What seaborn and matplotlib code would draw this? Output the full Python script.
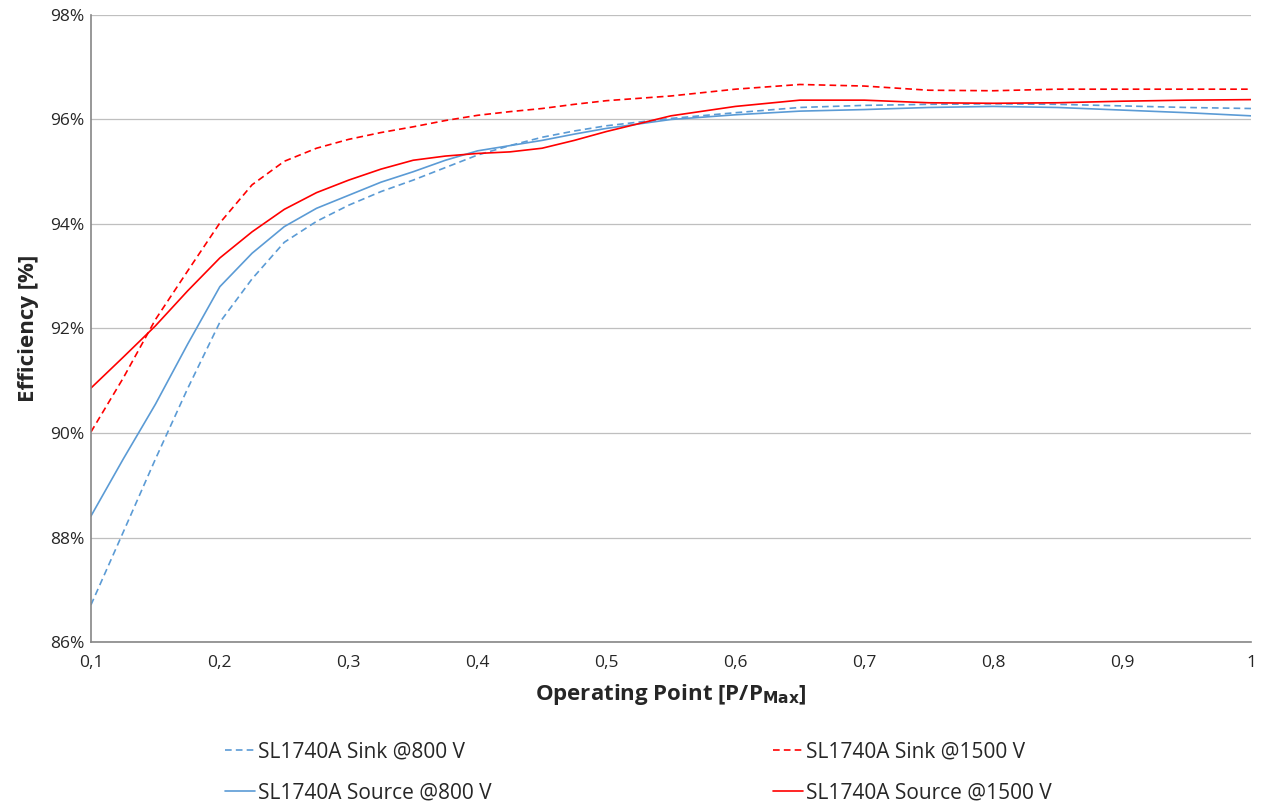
import numpy as np
import pandas as pd
import matplotlib
matplotlib.use("Agg")
import matplotlib.pyplot as plt
import seaborn as sns

x_pts = [0.1, 0.125, 0.15, 0.175, 0.2, 0.225, 0.25, 0.275, 0.3, 0.325, 0.35, 0.375, 0.4,
         0.425, 0.45, 0.475, 0.5, 0.55, 0.6, 0.65, 0.7, 0.75, 0.8, 0.85, 0.9, 0.95, 1.0]

# Efficiency in %
sink_800 = [86.71, 88.10, 89.50, 90.85, 92.12, 92.95, 93.65, 94.05, 94.36, 94.62, 94.84, 95.08, 95.32,
            95.50, 95.66, 95.78, 95.88, 96.02, 96.13, 96.23, 96.27, 96.29, 96.30, 96.29, 96.26, 96.23, 96.21]
source_800 = [88.41, 89.50, 90.55, 91.70, 92.80, 93.44, 93.95, 94.30, 94.55, 94.80, 95.00, 95.22, 95.40,
              95.50, 95.60, 95.72, 95.83, 96.00, 96.09, 96.16, 96.19, 96.23, 96.25, 96.23, 96.18, 96.13, 96.07]
sink_1500 = [90.02, 91.05, 92.17, 93.10, 94.02, 94.75, 95.20, 95.45, 95.62, 95.75, 95.86, 95.98, 96.08,
             96.15, 96.21, 96.29, 96.36, 96.45, 96.58, 96.67, 96.64, 96.56, 96.55, 96.58, 96.58, 96.58, 96.58]
source_1500 = [90.86, 91.45, 92.05, 92.72, 93.35, 93.85, 94.28, 94.60, 94.84, 95.05, 95.22, 95.30, 95.35,
               95.38, 95.45, 95.60, 95.77, 96.07, 96.25, 96.37, 96.37, 96.32, 96.31, 96.32, 96.35, 96.37, 96.38]

series_names = ["SL1740A Sink @800 V", "SL1740A Source @800 V",
                "SL1740A Sink @1500 V", "SL1740A Source @1500 V"]
series_vals = [sink_800, source_800, sink_1500, source_1500]

x_ticks = [0.1, 0.2, 0.3, 0.4, 0.5, 0.6, 0.7, 0.8, 0.9, 1.0]
x_tick_labels = ["0,1", "0,2", "0,3", "0,4", "0,5", "0,6", "0,7", "0,8", "0,9", "1"]
y_ticks = [86, 88, 90, 92, 94, 96, 98]
y_tick_labels = ["86%", "88%", "90%", "92%", "94%", "96%", "98%"]

blue = "#5B9BD5"
red = "#FF0000"
colors = [blue, blue, red, red]
dashed = [True, False, True, False]

sns.set_style("white")
plt.rcParams["font.family"] = ["Open Sans", "DejaVu Sans"]

fig = plt.figure(figsize=(12.65, 8.10), dpi=100)
ax = fig.add_axes([0.0719, 0.2074, 0.917, 0.7741])

for name, vals, c, d in zip(series_names, series_vals, colors, dashed):
    df = pd.DataFrame({"x": x_pts, "eff": vals})
    sns.lineplot(data=df, x="x", y="eff", color=c, linewidth=1.2,
                 label=name, ax=ax, legend=False)
    if d:
        ax.lines[-1].set_linestyle((0, (4, 2.5)))

ax.set_xlim(0.1, 1.0)
ax.set_ylim(86, 98)
ax.set_xticks(x_ticks)
ax.set_xticklabels(x_tick_labels, fontsize=12.5)
ax.set_yticks(y_ticks)
ax.set_yticklabels(y_tick_labels, fontsize=12.5)

ax.grid(axis="y", color="#BFBFBF", linewidth=0.9)
ax.grid(axis="x", visible=False)
ax.set_axisbelow(True)

for s in ["top", "right"]:
    ax.spines[s].set_visible(False)
for s in ["left", "bottom"]:
    ax.spines[s].set_color("#868686")
    ax.spines[s].set_linewidth(1.2)

ax.tick_params(axis="x", direction="out", length=5, color="#868686", width=1.2, pad=4)
ax.tick_params(axis="y", length=0, pad=5)

ax.set_xlabel(r"Operating Point [P/P$_{\mathbf{Max}}$]", fontsize=16, fontweight="bold", labelpad=8)
ax.set_ylabel("Efficiency [%]", fontsize=16, fontweight="bold", labelpad=8)

handles = ax.get_lines()[:4]
ax.legend(handles, series_names, loc="upper left", bbox_to_anchor=(0.099, -0.128),
          ncol=2, frameon=False, fontsize=15, handlelength=1.45, handletextpad=0.15,
          columnspacing=13.5, labelspacing=0.97)

fig.savefig("out.png", dpi=100)
